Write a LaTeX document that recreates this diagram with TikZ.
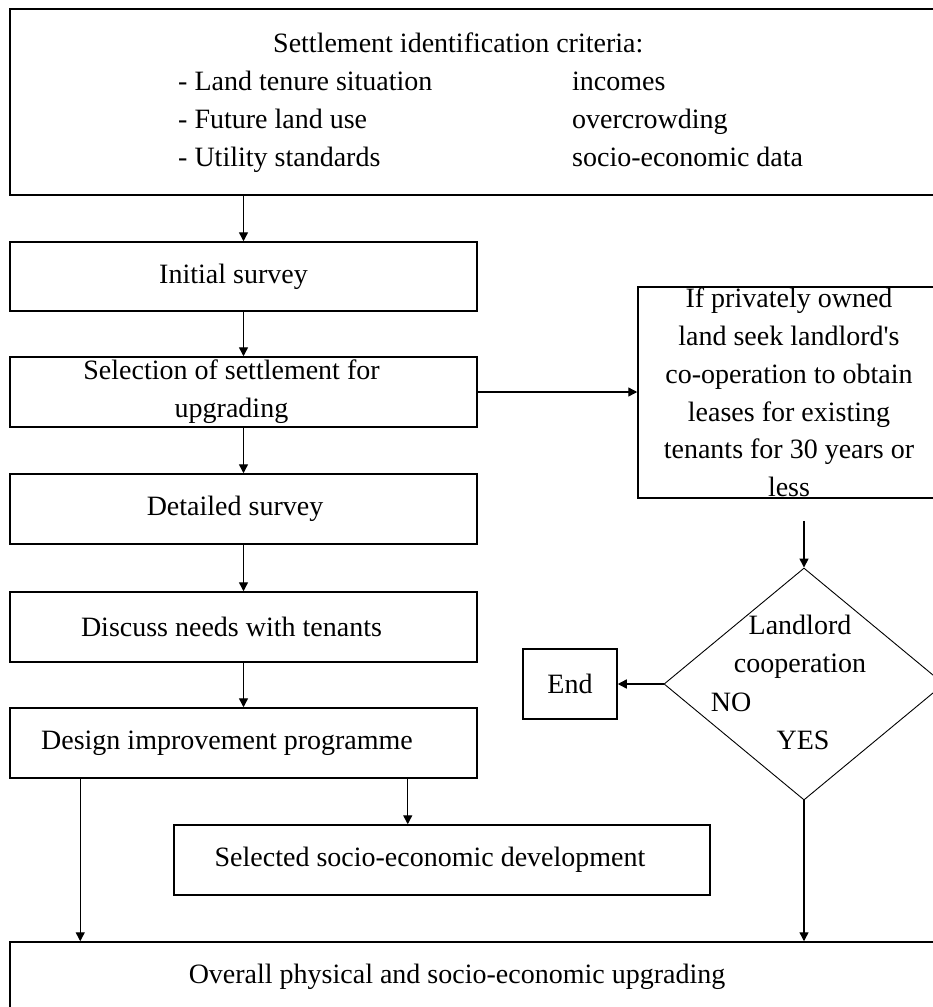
\documentclass[tikz,border=0pt]{standalone}
\usepackage{fontspec}
\setmainfont{Liberation Serif}
\usetikzlibrary{arrows.meta,shapes.geometric}

\begin{document}
\begin{tikzpicture}[x=1pt, y=-1pt,
        every node/.style={font=\fontsize{28}{37.8}\selectfont},
        box/.style={draw, line width=1.5pt, inner sep=0pt, align=center},
        nudge/.style={execute at end node={\hspace*{#1}}},
        flow/.style={line width=1.4pt, -{Triangle[length=9pt,width=9pt]}}]
    \useasboundingbox (0,0) rectangle (933,1007);

    % left column
    \node[box, minimum width=930pt, minimum height=186pt] (crit) at (475,102) {};
    \node[anchor=west, inner sep=0pt] (critlist) at (178,102) {%
        \begin{tabular}{@{}p{394pt}@{}l@{}}
            \multicolumn{2}{@{}l}{\hspace*{95pt}Settlement identification criteria:}\\
            - Land tenure situation & incomes\\
            - Future land use & overcrowding\\
            - Utility standards & socio-economic data
        \end{tabular}};
    \node[box, nudge=20pt, minimum width=467pt, minimum height=69pt] (initial) at (243.5,276.5) {Initial survey};
    \node[box, minimum width=467pt, minimum height=70pt] (select) at (243.5,392)
        {Selection of settlement for\hspace*{24pt}\\upgrading\hspace*{24pt}};
    \node[box, nudge=17pt, minimum width=467pt, minimum height=70pt] (detailed) at (243.5,509) {Detailed survey};
    \node[box, nudge=24pt, minimum width=467pt, minimum height=70pt] (discuss) at (243.5,627) {Discuss needs with tenants};
    \node[box, nudge=33pt, minimum width=467pt, minimum height=70pt] (design) at (243.5,743) {Design improvement programme};
    \node[box, nudge=24pt, minimum width=536pt, minimum height=70pt] (selected) at (442,860) {Selected socio-economic development};
    \node[box, nudge=36pt, minimum width=930pt, minimum height=70pt] (overall) at (475,977) {Overall physical and socio-economic upgrading};

    % right column
    \node[box, minimum width=302pt, minimum height=211pt] (lease) at (789,392.5)
        {If privately owned\\land seek landlord\textquotesingle s\\co-operation to obtain\\leases for existing\\tenants for 30 years or\\less};
    \node[draw, diamond, line width=0.9pt, inner sep=0pt, minimum width=280pt, minimum height=232pt] (landlord) at (804,684) {};
    \node[align=center, inner sep=0pt] (ask) at (800,647) {Landlord\\cooperation};
    \node[inner sep=0pt] (no) at (731,702) {NO};
    \node[inner sep=0pt] (yes) at (803,740) {YES};
    \node[box, minimum width=94pt, minimum height=70pt] (endbox) at (570,684) {End};
    \coordinate (leasefoot) at ([yshift=-22pt]lease.south -| landlord.north);

    % arrows
    \draw[flow] (crit.south -| initial.north) -- (initial.north);
    \draw[flow] (initial.south) -- (select.north);
    \draw[flow] (select.south) -- (detailed.north);
    \draw[flow] (detailed.south) -- (discuss.north);
    \draw[flow] (discuss.south) -- (design.north);
    \draw[flow] (select.east) -- (select.east -| lease.west);
    \draw[flow] (leasefoot) -- (landlord.north);
    \draw[flow] (landlord.west) -- (endbox.east);
    \draw[flow] (landlord.south) -- (landlord.south |- overall.north);
    \draw[flow] ([xshift=71pt]design.south west) -- ([xshift=71pt]design.south west |- overall.north);
    \draw[flow] ([xshift=-70pt]design.south east) -- ([xshift=-70pt]design.south east |- selected.north);
\end{tikzpicture}
\end{document}
